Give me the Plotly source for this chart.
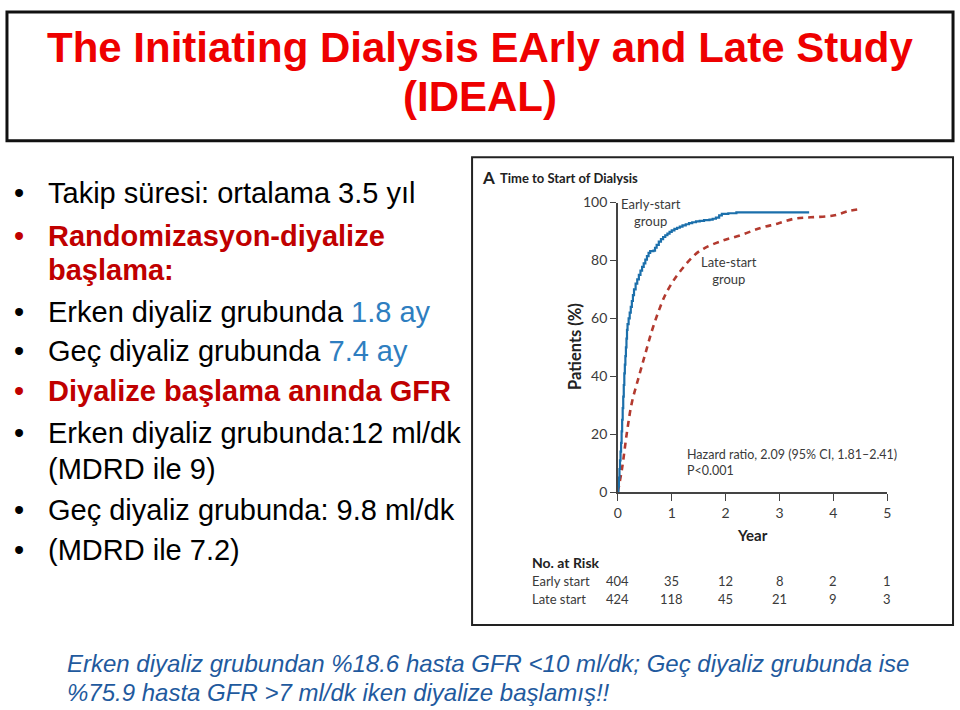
import plotly.graph_objects as go

W, H = 960, 710

# ---------------- data ----------------
early_years = [0, 0.01, 0.02, 0.03, 0.04, 0.05, 0.06, 0.07, 0.08, 0.09, 0.10, 0.11, 0.12, 0.13,
               0.14, 0.15, 0.16, 0.17, 0.18, 0.20, 0.22, 0.24, 0.26, 0.28, 0.30, 0.33, 0.36,
               0.39, 0.42, 0.45, 0.48, 0.51, 0.54, 0.57, 0.60, 0.66, 0.69, 0.72, 0.76, 0.80,
               0.84, 0.88, 0.92, 0.96, 1.00, 1.05, 1.10, 1.15, 1.20, 1.26, 1.32, 1.38, 1.45,
               1.52, 1.60, 1.70, 1.76, 1.82, 1.88, 1.93, 2.05, 2.20, 3.55]
early_pct = [0, 2, 5, 8, 11, 14, 17, 21, 25, 29, 33, 37, 41, 44,
             47, 50, 53, 56, 58, 60, 62, 64, 66, 68, 70, 72, 73.5,
             75, 76.5, 77.8, 79, 80.3, 81.5, 82.6, 83.2, 83.4, 84.4, 85.4, 86.5, 87.4,
             88.1, 88.7, 89.3, 89.9, 90.4, 90.9, 91.3, 91.7, 92.1, 92.5, 92.9, 93.2, 93.5,
             93.7, 93.9, 94.1, 94.4, 94.8, 95.6, 96.1, 96.3, 96.6, 96.6]

late_years = [0, 0.08, 0.17, 0.26, 0.39, 0.51, 0.63, 0.755, 0.877, 1.03, 1.21, 1.43, 1.61,
              1.92, 2.29, 2.66, 2.96, 3.27, 3.58, 4.0, 4.31, 4.53]
late_pct = [0, 8.4, 20.8, 30.9, 39.9, 47.8, 55.6, 62.4, 68, 73, 77.5, 82, 84.3,
            86.7, 88.8, 91.3, 92.7, 94.4, 94.9, 95.5, 97.2, 97.8]

risk_years = [0, 1, 2, 3, 4, 5]
early_risk = [404, 35, 12, 8, 2, 1]
late_risk = [424, 118, 45, 21, 9, 3]

x_ticks = [0, 1, 2, 3, 4, 5]
y_ticks = [0, 20, 40, 60, 80, 100]

title_lines = ["The Initiating Dialysis EArly and Late Study", "(IDEAL)"]

# ---------------- helpers (pixel -> paper) ----------------
def px(x):
    return x / W

def py(y):
    return 1 - y / H

RED_T = "#ee0000"
RED_B = "#c00000"
BLUE_T = "#2e7ec0"
BLUE_I = "#1f5a9e"
CH = "#3a3a3a"
SANS = "Liberation Sans, Arial, sans-serif"
NARROW = "Lato, Liberation Sans, Arial, sans-serif"

fig = go.Figure()

fig.add_trace(go.Scatter(
    x=late_years, y=late_pct, mode="lines", line_shape="spline",
    line=dict(color="#b33a2f", width=2.6, dash="6px,5px"),
    hoverinfo="skip", showlegend=False))
fig.add_trace(go.Scatter(
    x=early_years, y=early_pct, mode="lines", line_shape="hv",
    line=dict(color="#1b6fab", width=2.2),
    hoverinfo="skip", showlegend=False))

x0, x1 = 619, 890.7
y0, y1 = 495, 198.3

fig.update_layout(
    width=W, height=H, margin=dict(l=0, r=0, t=0, b=0),
    paper_bgcolor="white", plot_bgcolor="white",
    xaxis=dict(domain=[px(x0), px(x1)], range=[0, 5], tickvals=x_ticks,
               showline=True, linecolor="#444", linewidth=1.5,
               ticks="outside", ticklen=7, tickwidth=1.3, tickcolor="#444",
               showgrid=False, zeroline=False,
               tickfont=dict(family=NARROW, size=14, color=CH)),
    yaxis=dict(domain=[py(y0), py(y1)], range=[0, 100], tickvals=y_ticks,
               showline=True, linecolor="#444", linewidth=1.5,
               ticks="outside", ticklen=6, tickwidth=1.3, tickcolor="#444",
               showgrid=False, zeroline=False,
               tickfont=dict(family=NARROW, size=14, color=CH)),
)

shapes = []
# title box
shapes.append(dict(type="rect", xref="paper", yref="paper",
                   x0=px(3), x1=px(957), y0=py(135), y1=py(3),
                   line=dict(color="#111", width=3), fillcolor="rgba(0,0,0,0)"))
# image frame
shapes.append(dict(type="rect", xref="paper", yref="paper",
                   x0=px(472), x1=px(957), y0=py(631), y1=py(152),
                   line=dict(color="#222", width=2), fillcolor="rgba(0,0,0,0)"))
fig.update_layout(shapes=shapes)

ann = []

def A(x, y, text, size, color, family=SANS, xanchor="left", yanchor="middle", **kw):
    ann.append(dict(x=px(x), y=py(y), xref="paper", yref="paper", text=text,
                    showarrow=False, xanchor=xanchor, yanchor=yanchor,
                    font=dict(family=family, size=size, color=color), **kw))

# title
A(480, 39, "<b>%s</b>" % title_lines[0], 42, RED_T, xanchor="center")
A(480, 90, "<b>%s</b>" % title_lines[1], 42, RED_T, xanchor="center")

# bullets
bullets = [
    (189, "Takip süresi: ortalama 3.5 yıl", "black", True),
    (233, "<b>Randomizasyon-diyalize</b>", RED_B, True),
    (267, "<b>başlama:</b>", RED_B, False),
    (310, "Erken diyaliz grubunda <span style='color:%s'>1.8 ay</span>" % BLUE_T, "black", True),
    (350, "Geç diyaliz grubunda <span style='color:%s'>7.4 ay</span>" % BLUE_T, "black", True),
    (391, "<b>Diyalize başlama anında GFR</b>", RED_B, True),
    (434, "Erken diyaliz grubunda:12 ml/dk", "black", True),
    (471, "(MDRD ile 9)", "black", False),
    (513, "Geç diyaliz grubunda: 9.8 ml/dk", "black", True),
    (554, "(MDRD ile 7.2)", "black", True),
]
for yy, txt, col, bul in bullets:
    A(42, yy, txt, 29, col)
    if bul:
        A(8, yy, "•", 29, col)

# bottom italic note
A(62, 671, "<i>Erken diyaliz grubundan %18.6 hasta GFR <10 ml/dk; Geç diyaliz grubunda ise</i>", 24, BLUE_I)
A(62, 700, "<i>%75.9 hasta GFR >7 ml/dk iken diyalize başlamış!!</i>", 24, BLUE_I)

# chart texts
A(480, 173, "<b>A</b>", 17, "#222", family=NARROW)
A(498, 173, "<b>Time to Start of Dialysis</b>", 13, "#222", family=NARROW)
A(576, 346, "<b>Patients (%)</b>", 16.5, "#222", family=NARROW, xanchor="center", textangle=-90)
A(755, 539, "<b>Year</b>", 15, "#222", family=NARROW, xanchor="center")
A(530, 567, "<b>No. at Risk</b>", 14, "#222", family=NARROW)
A(530, 586, "Early start", 13, CH, family=NARROW)
A(530, 604, "Late start", 13, CH, family=NARROW)

for xr, e, l in zip(risk_years, early_risk, late_risk):
    ann.append(dict(x=xr, y=py(586), xref="x", yref="paper", text=str(e), showarrow=False,
                    xanchor="center", yanchor="middle",
                    font=dict(family=NARROW, size=13, color=CH)))
    ann.append(dict(x=xr, y=py(604), xref="x", yref="paper", text=str(l), showarrow=False,
                    xanchor="center", yanchor="middle",
                    font=dict(family=NARROW, size=13, color=CH)))

# in-plot labels
ann.append(dict(x=0.61, y=96.5, xref="x", yref="y", text="Early-start<br>group",
                showarrow=False, xanchor="center", yanchor="middle", align="center",
                font=dict(family=NARROW, size=13, color=CH)))
ann.append(dict(x=2.06, y=76.5, xref="x", yref="y", text="Late-start<br>group",
                showarrow=False, xanchor="center", yanchor="middle", align="center",
                font=dict(family=NARROW, size=13, color=CH)))
ann.append(dict(x=1.24, y=10.2, xref="x", yref="y",
                text="Hazard ratio, 2.09 (95% CI, 1.81–2.41)<br>P<0.001",
                showarrow=False, xanchor="left", yanchor="middle", align="left",
                font=dict(family=NARROW, size=12.5, color=CH)))

fig.update_layout(annotations=ann)
fig.write_html("out.html")
